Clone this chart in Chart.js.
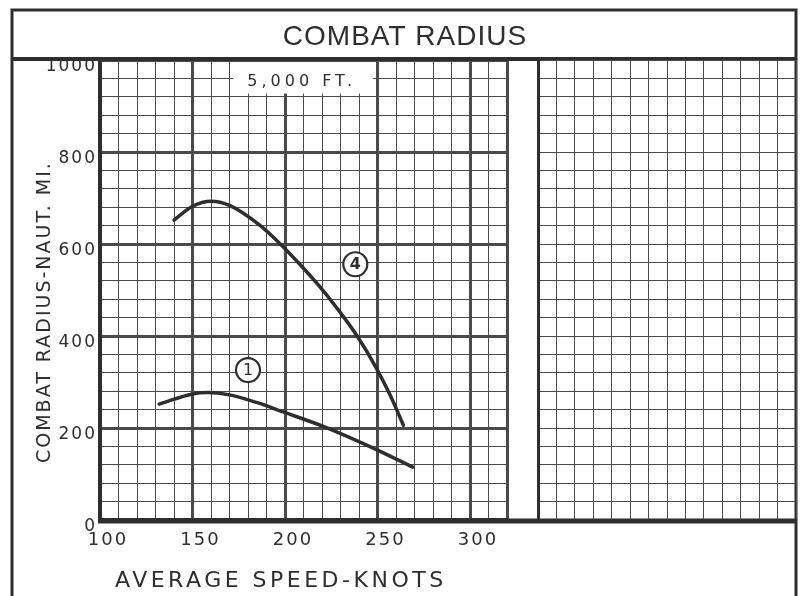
<!DOCTYPE html>
<html>
<head>
<meta charset="utf-8">
<script src="https://cdn.jsdelivr.net/npm/chart.js@4.4.1/dist/chart.umd.min.js"></script>
<style>
  body { margin: 0; background: #fff; }
  #wrap { position: relative; width: 800px; height: 596px; }
  canvas { position: absolute; left: 0; top: 0; }
</style>
</head>
<body>
<div id="wrap">
  <canvas id="radiusChart" width="800" height="596"></canvas>
  <canvas id="blankGrid" width="800" height="596"></canvas>
</div>
<script>
// curve (1)
const speed1 = [132, 150, 158, 170, 185, 199, 221, 250, 269];
const radius1 = [252, 274, 277, 272, 255, 235, 203, 152, 115];
// curve (4)
const speed4 = [140, 150, 160, 170, 186, 198, 208, 218, 228, 239, 249, 257, 264];
const radius4 = [652, 682, 693, 684, 642, 598, 556, 511, 461, 400, 333, 270, 206];

const xTickLabels = [100, 150, 200, 250, 300];
const yTickLabels = [0, 200, 400, 600, 800, 1000];

// circled curve numbers
const tagText = ['1', '4'];
const tagSpeed = [180, 238];
const tagRadius = [326, 556];

const chartTitle = 'COMBAT RADIUS';
const xTitle = 'AVERAGE SPEED-KNOTS';
const yTitle = 'COMBAT RADIUS-NAUT. MI.';
const altitudeLabel = '5,000 FT.';

const ink = '#2e2e2e';
const gridInk = '#4a4a4a';

// 종이 테두리, 제목, 축 제목 그리기
const sheetPlugin = {
    id: 'sheet',
    beforeDraw(chart) {
        const ctx = chart.ctx;
        ctx.save();
        ctx.fillStyle = '#fff';
        ctx.fillRect(0, 0, chart.width, chart.height);
        ctx.restore();
        ctx.letterSpacing = '2px';  // tick 라벨 자간
    },
    beforeDatasetsDraw(chart) {
        const { ctx, scales: { x, y } } = chart;
        // 5,000 FT. 라벨 뒤 흰 박스
        const l = x.getPixelForValue(172), r = x.getPixelForValue(247.5);
        const t = y.getPixelForValue(1000) + 2, b = y.getPixelForValue(927);
        ctx.save();
        ctx.fillStyle = '#fff';
        ctx.fillRect(l, t, r - l, b - t);
        ctx.fillStyle = ink;
        ctx.font = '16px "DejaVu Sans"';
        ctx.letterSpacing = '4px';
        ctx.textAlign = 'center';
        ctx.textBaseline = 'middle';
        ctx.fillText(altitudeLabel, x.getPixelForValue(209), y.getPixelForValue(952));
        ctx.restore();
    },
    afterDraw(chart) {
        const { ctx, chartArea, scales: { x, y } } = chart;
        ctx.save();
        ctx.letterSpacing = '0px';
        ctx.strokeStyle = ink;

        // 바깥 테두리
        ctx.lineWidth = 3;
        ctx.beginPath();
        ctx.moveTo(12, 596); ctx.lineTo(12, 10); ctx.lineTo(796, 10); ctx.lineTo(796, 596);
        ctx.stroke();

        // 제목 아래 선
        ctx.lineWidth = 4;
        ctx.beginPath();
        ctx.moveTo(12, 59); ctx.lineTo(796, 59);
        ctx.stroke();

        // 아래 굵은 선 (오른쪽 격자까지)
        ctx.lineWidth = 5;
        ctx.beginPath();
        ctx.moveTo(chartArea.left - 2, chartArea.bottom + 1); ctx.lineTo(797, chartArea.bottom + 1);
        ctx.stroke();

        // 제목
        ctx.fillStyle = ink;
        ctx.font = '28px "Liberation Sans"';
        ctx.letterSpacing = '1px';
        ctx.textAlign = 'center';
        ctx.textBaseline = 'alphabetic';
        ctx.fillText(chartTitle, 405, 45);

        // x축 제목
        ctx.font = '22px "DejaVu Sans"';
        ctx.letterSpacing = '3.5px';
        ctx.textAlign = 'left';
        ctx.fillText(xTitle, 115, 587);

        // y축 제목
        ctx.save();
        ctx.translate(50, 463);
        ctx.rotate(-Math.PI / 2);
        ctx.font = '19px "DejaVu Sans"';
        ctx.letterSpacing = '2px';
        ctx.fillText(yTitle, 0, 0);
        ctx.restore();

        // 동그라미 번호
        ctx.letterSpacing = '0px';
        ctx.textAlign = 'center';
        ctx.textBaseline = 'middle';
        tagText.forEach((txt, i) => {
            const cx = x.getPixelForValue(tagSpeed[i]);
            const cy = y.getPixelForValue(tagRadius[i]);
            ctx.beginPath();
            ctx.arc(cx, cy, 12, 0, Math.PI * 2);
            ctx.fillStyle = '#fff';
            ctx.fill();
            ctx.lineWidth = 2.2;
            ctx.stroke();
            ctx.fillStyle = ink;
            ctx.font = (txt === '4' ? 'bold ' : '') + '16px "DejaVu Sans"';
            ctx.fillText(txt, cx, cy + 1);
        });
        ctx.restore();
    }
};

function toPoints(xs, ys) {
    return xs.map((v, i) => ({ x: v, y: ys[i] }));
}

new Chart(document.getElementById('radiusChart'), {
    type: 'scatter',
    data: {
        datasets: [
            {
                label: '1',
                data: toPoints(speed1, radius1),
                showLine: true,
                cubicInterpolationMode: 'monotone',
                borderColor: ink,
                borderWidth: 3.5,
                borderCapStyle: 'round',
                pointRadius: 0
            },
            {
                label: '4',
                data: toPoints(speed4, radius4),
                showLine: true,
                cubicInterpolationMode: 'monotone',
                borderColor: ink,
                borderWidth: 3.5,
                borderCapStyle: 'round',
                pointRadius: 0
            }
        ]
    },
    options: {
        responsive: false,
        animation: false,
        layout: { padding: { left: 0, right: 293, top: 60, bottom: 0 } },
        plugins: {
            legend: { display: false },
            tooltip: { enabled: false }
        },
        scales: {
            x: {
                type: 'linear',
                min: 100,
                max: 320,
                afterFit: (scale) => { scale.height = 76; },
                ticks: {
                    stepSize: 10,
                    autoSkip: false,
                    maxTicksLimit: 100,
                    maxRotation: 0,
                    padding: 10,
                    labelOffset: 8,
                    color: ink,
                    font: { family: 'DejaVu Sans', size: 18 },
                    callback: (v) => xTickLabels.includes(v) ? String(v) : ''
                },
                grid: {
                    color: gridInk,
                    drawTicks: false,
                    lineWidth: (c) => (c.tick && (c.tick.value % 50 === 0 || c.tick.value === 320)) ? 3 : 1
                },
                border: { color: ink, width: 4 }
            },
            y: {
                type: 'linear',
                min: 0,
                max: 1000,
                afterFit: (scale) => { scale.width = 100; },
                ticks: {
                    stepSize: 40,
                    autoSkip: false,
                    maxTicksLimit: 100,
                    padding: 3,
                    labelOffset: 7,
                    color: ink,
                    font: { family: 'DejaVu Sans', size: 17 },
                    callback: (v) => yTickLabels.includes(v) ? String(v) : ''
                },
                grid: {
                    color: gridInk,
                    drawTicks: false,
                    lineWidth: (c) => (c.tick && c.tick.value % 200 === 0) ? 3 : 1
                },
                border: { color: ink, width: 4 }
            }
        }
    },
    plugins: [sheetPlugin]
});

// 오른쪽 빈 격자
new Chart(document.getElementById('blankGrid'), {
    type: 'scatter',
    data: { datasets: [] },
    options: {
        responsive: false,
        animation: false,
        layout: { padding: { left: 538, right: 4, top: 60, bottom: 76 } },
        plugins: {
            legend: { display: false },
            tooltip: { enabled: false }
        },
        scales: {
            x: {
                type: 'linear',
                min: 0,
                max: 14,
                afterFit: (scale) => { scale.height = 0; },
                ticks: { display: false, stepSize: 1, autoSkip: false },
                grid: { color: gridInk, lineWidth: 1, drawTicks: false },
                border: { color: ink, width: 3 }
            },
            y: {
                type: 'linear',
                min: 0,
                max: 1000,
                afterFit: (scale) => { scale.width = 0; },
                ticks: { display: false, stepSize: 40, autoSkip: false },
                grid: { color: gridInk, lineWidth: 1, drawTicks: false },
                border: { color: ink, width: 3 }
            }
        }
    }
});
</script>
</body>
</html>
